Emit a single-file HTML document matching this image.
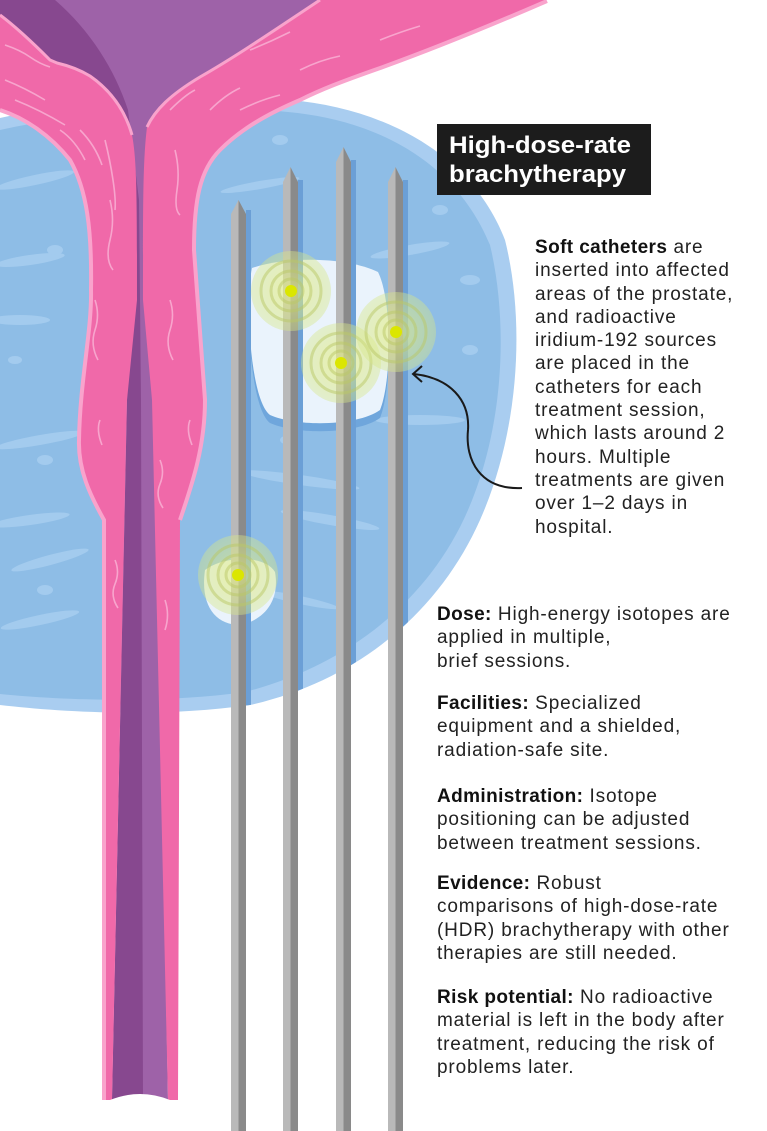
<!DOCTYPE html>
<html><head><meta charset="utf-8"><style>
html,body{margin:0;padding:0;background:#fff}
body{width:767px;height:1131px;overflow:hidden;position:relative;font-family:"Liberation Sans",sans-serif}
svg{position:absolute;left:0;top:0}
.t{position:absolute;font-size:19px;line-height:23.3px;color:#222;letter-spacing:0.85px;white-space:nowrap}
.t b{font-weight:bold;color:#111;letter-spacing:0.4px}
</style></head><body>
<svg width="767" height="1131" viewBox="0 0 767 1131">
<defs>
<radialGradient id="g" cx="50%" cy="50%" r="50%">
<stop offset="0" stop-color="#e8f080" stop-opacity="0.9"/>
<stop offset="1" stop-color="#d6e68a" stop-opacity="0.55"/>
</radialGradient>
<clipPath id="pc"><path d="M0,118 C80,100 200,92 290,100 C380,108 470,150 505,240 C525,320 520,430 480,520 C440,610 360,680 250,705 C160,718 60,712 0,705 Z"/></clipPath>
</defs>
<!-- prostate -->
<path d="M0,118 C80,100 200,92 290,100 C380,108 470,150 505,240 C525,320 520,430 480,520 C440,610 360,680 250,705 C160,718 60,712 0,705 Z" fill="#a9cdf0"/>
<path d="M0,130 C80,112 200,104 288,112 C375,120 455,160 490,245 C508,320 505,425 468,510 C430,598 350,665 245,692 C160,704 60,700 0,694 Z" fill="#8ebde6"/>
<g fill="#a6cdef" opacity="0.9">
<ellipse cx="35" cy="180" rx="40" ry="5" transform="rotate(-12 35 180)"/>
<ellipse cx="30" cy="260" rx="35" ry="5" transform="rotate(-8 30 260)"/>
<ellipse cx="20" cy="320" rx="30" ry="5"/>
<ellipse cx="40" cy="440" rx="45" ry="5" transform="rotate(-10 40 440)"/>
<ellipse cx="30" cy="520" rx="40" ry="5" transform="rotate(-8 30 520)"/>
<ellipse cx="50" cy="560" rx="40" ry="5" transform="rotate(-15 50 560)"/>
<ellipse cx="40" cy="620" rx="40" ry="5" transform="rotate(-12 40 620)"/>
<ellipse cx="55" cy="250" rx="8" ry="5"/><ellipse cx="15" cy="360" rx="7" ry="4"/>
<ellipse cx="45" cy="460" rx="8" ry="5"/><ellipse cx="45" cy="590" rx="8" ry="5"/>
<ellipse cx="280" cy="140" rx="8" ry="5"/><ellipse cx="345" cy="230" rx="8" ry="5"/>
<ellipse cx="440" cy="210" rx="8" ry="5"/><ellipse cx="470" cy="280" rx="10" ry="5"/>
<ellipse cx="410" cy="250" rx="40" ry="5" transform="rotate(-10 410 250)"/>
<ellipse cx="420" cy="420" rx="45" ry="5"/><ellipse cx="470" cy="350" rx="8" ry="5"/>
<ellipse cx="300" cy="480" rx="60" ry="5" transform="rotate(8 300 480)"/>
<ellipse cx="330" cy="520" rx="50" ry="5" transform="rotate(10 330 520)"/>
<ellipse cx="290" cy="440" rx="10" ry="5"/><ellipse cx="300" cy="600" rx="40" ry="4" transform="rotate(12 300 600)"/>
<ellipse cx="260" cy="185" rx="40" ry="4" transform="rotate(-10 260 185)"/>
</g>
<!-- lesions -->
<path d="M252,268 C290,255 350,258 378,272 C392,300 392,380 380,410 C360,425 300,428 270,415 C250,400 245,300 252,268 Z" fill="#6fa6dc" transform="translate(0,8)"/>
<path d="M252,268 C290,255 350,258 378,272 C392,300 392,380 380,410 C360,425 300,428 270,415 C250,400 245,300 252,268 Z" fill="#eaf3fc"/>
<path d="M205,570 C225,555 265,555 275,572 C280,600 265,620 240,625 C215,625 200,605 205,570 Z" fill="#eaf3fc"/>
<!-- urethra purple -->
<path d="M0,0 L330,0 L150,200 L155,400 L168,1100 L112,1100 L127,400 L135,200 L0,30 Z" fill="#9e62a8"/>
<path d="M0,0 L55,0 C90,30 115,70 128,110 L139,200 L141,400 L143,1100 L112,1100 L127,400 L134,200 L0,30 Z" fill="#87488f"/>
<!-- pink walls -->
<path d="M0,15 C20,30 40,50 50,60 L57,63 C70,66 80,70 90,76 C110,90 125,110 132,135 C137,160 137,200 137,300 L127,400 L112,1100 L102,1100 L102,520 C90,495 78,470 79,440 C80,380 92,330 91,290 C92,230 87,190 70,160 C50,135 25,118 0,110 Z" fill="#f069a9"/>
<path d="M320,0 L545,0 C480,30 430,50 383,67 C340,82 320,90 300,100 C265,115 240,130 220,150 C200,170 194,200 194,250 L205,400 C205,450 190,490 180,520 L178,1100 L168,1100 L152,400 L143,300 C143,200 143,160 147,127 C155,110 170,95 200,77 C230,60 260,40 320,0 Z" fill="#f069a9"/>
<g fill="none" stroke="#f9a3cc" stroke-width="4">
<path d="M0,110 C25,118 50,135 70,160 C87,190 92,230 91,290 C92,330 80,380 79,440 C78,470 90,495 104,520 L104,1100"/>
<path d="M547,1 C480,30 430,50 383,67 C340,82 320,90 300,100 C265,115 240,130 220,150 C200,170 194,200 194,250 L205,400 C205,450 190,490 180,520"/>
<path d="M0,15 C20,30 40,50 50,60 L57,63 C70,66 80,70 90,76 C110,90 125,110 132,135" stroke-width="3"/>
<path d="M320,0 C260,40 230,60 200,77 C170,95 155,110 147,127" stroke-width="3"/>
</g>
<path d="M110,1100 Q140,1088 170,1100 L170,1108 L110,1108 Z" fill="#fff"/>
<g stroke="#f9b0d4" stroke-width="1.6" fill="none" opacity="0.85">
<path d="M5,45 q15,5 25,12 t20,10"/><path d="M5,80 q20,8 40,20"/><path d="M15,100 q25,10 50,25"/>
<path d="M60,130 q15,10 25,30"/><path d="M80,130 q15,15 22,35"/><path d="M105,140 q5,20 8,40 t2,30"/>
<path d="M110,200 q5,20 0,40 t3,30"/><path d="M95,300 q5,15 0,30 t3,30"/><path d="M100,420 q-4,10 2,25"/><path d="M115,560 q5,12 0,24 t3,24"/>
<path d="M165,600 q5,15 0,30"/><path d="M170,300 q5,15 0,30 t3,30"/><path d="M190,420 q-4,10 2,25"/>
<path d="M240,110 q20,-10 40,-15"/><path d="M300,70 q20,-10 40,-14"/><path d="M380,40 q20,-8 40,-14"/>
<path d="M250,50 q20,-8 40,-18"/><path d="M170,110 q15,-15 25,-20"/><path d="M175,150 q5,20 2,40 t3,25"/>
<path d="M160,460 q5,12 0,24 t3,24"/><path d="M210,110 q15,-15 30,-22"/>
</g>
<!-- needles -->
<g clip-path="url(#pc)" fill="#6b9fd6">
<rect x="246" y="210" width="5" height="600"/>
<rect x="298" y="180" width="5" height="600"/>
<rect x="351" y="160" width="5" height="600"/>
<rect x="403" y="180" width="5" height="600"/>
</g>
<path d="M231,1131 L231,214 L238.5,200 L238.5,1131 Z" fill="#b9b9b9"/><path d="M238.5,200 L246,214 L246,1131 L238.5,1131 Z" fill="#8a8a8a"/>
<path d="M283,1131 L283,182 L290.5,167 L290.5,1131 Z" fill="#b9b9b9"/><path d="M290.5,167 L298,182 L298,1131 L290.5,1131 Z" fill="#8a8a8a"/>
<path d="M336,1131 L336,162 L343.5,147 L343.5,1131 Z" fill="#b9b9b9"/><path d="M343.5,147 L351,162 L351,1131 L343.5,1131 Z" fill="#8a8a8a"/>
<path d="M388,1131 L388,182 L395.5,167 L395.5,1131 Z" fill="#b9b9b9"/><path d="M395.5,167 L403,182 L403,1131 L395.5,1131 Z" fill="#8a8a8a"/>
<!-- glows -->
<g>
<g transform="translate(291,291)"><circle r="40" fill="url(#g)" opacity="0.75"/><circle r="30" fill="none" stroke="#b9c765" stroke-width="3" opacity="0.5"/><circle r="20" fill="none" stroke="#b9c765" stroke-width="3" opacity="0.5"/><circle r="12" fill="none" stroke="#b9c765" stroke-width="3" opacity="0.5"/><circle r="6" fill="#dbe600"/></g>
<g transform="translate(341,363)"><circle r="40" fill="url(#g)" opacity="0.75"/><circle r="30" fill="none" stroke="#b9c765" stroke-width="3" opacity="0.5"/><circle r="20" fill="none" stroke="#b9c765" stroke-width="3" opacity="0.5"/><circle r="12" fill="none" stroke="#b9c765" stroke-width="3" opacity="0.5"/><circle r="6" fill="#dbe600"/></g>
<g transform="translate(396,332)"><circle r="40" fill="url(#g)" opacity="0.75"/><circle r="30" fill="none" stroke="#b9c765" stroke-width="3" opacity="0.5"/><circle r="20" fill="none" stroke="#b9c765" stroke-width="3" opacity="0.5"/><circle r="12" fill="none" stroke="#b9c765" stroke-width="3" opacity="0.5"/><circle r="6" fill="#dbe600"/></g>
<g transform="translate(238,575)"><circle r="40" fill="url(#g)" opacity="0.75"/><circle r="30" fill="none" stroke="#b9c765" stroke-width="3" opacity="0.5"/><circle r="20" fill="none" stroke="#b9c765" stroke-width="3" opacity="0.5"/><circle r="12" fill="none" stroke="#b9c765" stroke-width="3" opacity="0.5"/><circle r="6" fill="#dbe600"/></g>
</g>
<!-- arrow -->
<path d="M522,488 C480,490 465,460 468,430 C470,400 450,378 414,374" fill="none" stroke="#1a1a1a" stroke-width="2"/>
<path d="M422,366 L413,374 L422,382" fill="none" stroke="#1a1a1a" stroke-width="2"/>
<!-- title box -->
<rect x="437" y="124" width="214" height="71" fill="#1c1c1c"/>
<text x="449" y="153" font-family="Liberation Sans" font-weight="bold" font-size="24" fill="#fff" textLength="182" lengthAdjust="spacingAndGlyphs">High-dose-rate</text>
<text x="449" y="182" font-family="Liberation Sans" font-weight="bold" font-size="24" fill="#fff" textLength="177" lengthAdjust="spacingAndGlyphs">brachytherapy</text>
</svg>
<div class="t" style="left:535px;top:236px"><b>Soft catheters</b> are<br>inserted into affected<br>areas of the prostate,<br>and radioactive<br>iridium-192 sources<br>are placed in the<br>catheters for each<br>treatment session,<br>which lasts around 2<br>hours. Multiple<br>treatments are given<br>over 1–2 days in<br>hospital.</div>
<div class="t" style="left:437px;top:603px"><b>Dose:</b> High-energy isotopes are<br>applied in multiple,<br>brief sessions.</div>
<div class="t" style="left:437px;top:692px"><b>Facilities:</b> Specialized<br>equipment and a shielded,<br>radiation-safe site.</div>
<div class="t" style="left:437px;top:785px"><b>Administration:</b> Isotope<br>positioning can be adjusted<br>between treatment sessions.</div>
<div class="t" style="left:437px;top:872px"><b>Evidence:</b> Robust<br>comparisons of high-dose-rate<br>(HDR) brachytherapy with other<br>therapies are still needed.</div>
<div class="t" style="left:437px;top:986px"><b>Risk potential:</b> No radioactive<br>material is left in the body after<br>treatment, reducing the risk of<br>problems later.</div>
</body></html>
